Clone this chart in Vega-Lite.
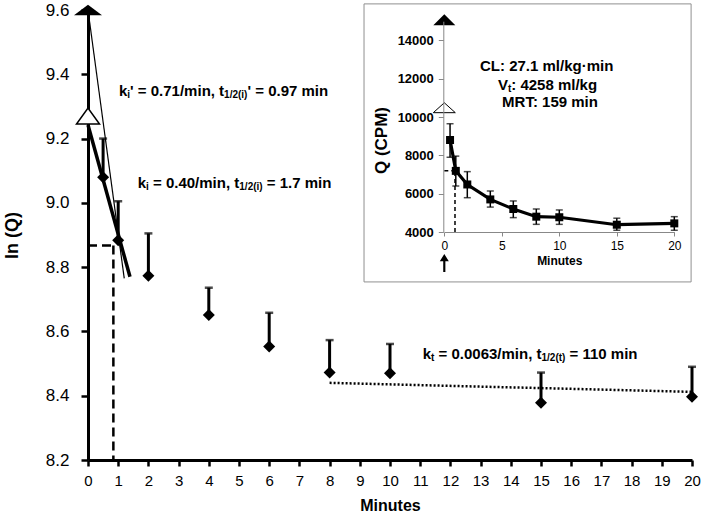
{
  "$schema": "https://vega.github.io/schema/vega-lite/v6.json",
  "width": 604,
  "height": 450,
  "autosize": {"type": "none"},
  "padding": {"left": 88, "top": 10, "right": 13, "bottom": 57},
  "background": "white",
  "config": {
    "view": {"stroke": null},
    "font": "Liberation Sans",
    "axis": {"grid": false, "labelFont": "Liberation Sans", "titleFont": "Liberation Sans", "labelColor": "black", "titleColor": "black"}
  },
  "datasets": {
    "mainPts": [
      {"x": 0.5, "y": 9.08, "top": 9.2},
      {"x": 1, "y": 8.884, "top": 9.005},
      {"x": 2, "y": 8.773, "top": 8.905},
      {"x": 4, "y": 8.651, "top": 8.736},
      {"x": 6, "y": 8.553, "top": 8.658},
      {"x": 8, "y": 8.472, "top": 8.573},
      {"x": 10, "y": 8.47, "top": 8.561},
      {"x": 15, "y": 8.378, "top": 8.472},
      {"x": 20, "y": 8.397, "top": 8.49}
    ],
    "thinLine": [{"x": 0, "y": 9.6}, {"x": 1.2, "y": 8.765}],
    "thickLine": [{"x": 0, "y": 9.242}, {"x": 1.39, "y": 8.77}],
    "dashLines": [
      {"seg": "h", "x": 0, "y": 8.867},
      {"seg": "h", "x": 0.84, "y": 8.867},
      {"seg": "v", "x": 0.84, "y": 8.867},
      {"seg": "v", "x": 0.84, "y": 8.2}
    ],
    "dotLine": [{"x": 8, "y": 8.44}, {"x": 20, "y": 8.412}],
    "frame": [{"x": 9.14, "x2": 19.97, "y": 9.619, "y2": 8.754}],
    "mainTri": [
      {"kind": "filled", "x": 0, "y": 9.6},
      {"kind": "open", "x": 0, "y": 9.27}
    ],
    "mainText": [
      {"part": "main", "x": 1.026, "y": 9.348, "text": "k"},
      {"part": "sub", "x": 1.301, "y": 9.348, "text": "i"},
      {"part": "main", "x": 1.394, "y": 9.348, "text": "' = 0.71/min, t"},
      {"part": "sub", "x": 4.507, "y": 9.348, "text": "1/2(i)"},
      {"part": "main", "x": 5.281, "y": 9.348, "text": "' = 0.97 min"},
      {"part": "main", "x": 1.646, "y": 9.063, "text": "k"},
      {"part": "sub", "x": 1.921, "y": 9.063, "text": "i"},
      {"part": "main", "x": 2.151, "y": 9.063, "text": "= 0.40/min, t"},
      {"part": "sub", "x": 5.01, "y": 9.063, "text": "1/2(i)"},
      {"part": "main", "x": 5.919, "y": 9.063, "text": "= 1.7 min"},
      {"part": "main", "x": 11.083, "y": 8.529, "text": "k"},
      {"part": "sub", "x": 11.358, "y": 8.529, "text": "t"},
      {"part": "main", "x": 11.608, "y": 8.529, "text": "= 0.0063/min, t"},
      {"part": "sub", "x": 15.017, "y": 8.529, "text": "1/2(t)"},
      {"part": "main", "x": 15.946, "y": 8.529, "text": "= 110 min"}
    ],
    "insetPts": [
      {"x": 0.5, "q": 8800, "lo": 7900, "hi": 9650},
      {"x": 1, "q": 7190, "lo": 6400, "hi": 7960},
      {"x": 2, "q": 6480, "lo": 5790, "hi": 7150},
      {"x": 4, "q": 5700, "lo": 5300, "hi": 6140},
      {"x": 6, "q": 5200, "lo": 4750, "hi": 5620},
      {"x": 8, "q": 4800, "lo": 4400, "hi": 5200},
      {"x": 10, "q": 4770, "lo": 4400, "hi": 5150},
      {"x": 15, "q": 4380, "lo": 4090, "hi": 4720},
      {"x": 20, "q": 4450, "lo": 4090, "hi": 4800}
    ],
    "insetDash": [
      {"seg": "v", "x": 0.93, "q": 4000},
      {"seg": "v", "x": 0.93, "q": 7190},
      {"seg": "h", "x": 0, "q": 7190},
      {"seg": "h", "x": 0.93, "q": 7190}
    ],
    "insetTri": [
      {"kind": "filled", "x": 0, "q": 15080},
      {"kind": "open", "x": 0, "q": 10485}
    ],
    "insetArrow": [{"x": 0, "q": 2383}],
    "insetCenterText": [
      {"x": 8.9, "q": 12686, "text": "CL: 27.1 ml/kg·min"},
      {"x": 9.19, "q": 10782, "text": "MRT: 159 min"}
    ],
    "insetVt": [
      {"part": "main", "x": 4.66, "q": 11669, "text": "V"},
      {"part": "sub", "x": 5.53, "q": 11669, "text": "t"},
      {"part": "main", "x": 5.82, "q": 11669, "text": ": 4258 ml/kg"}
    ]
  },
  "layer": [
    {
      "encoding": {
        "x": {
          "field": "x", "type": "quantitative",
          "scale": {"domain": [0, 20], "nice": false, "zero": false},
          "axis": {
            "title": "Minutes",
            "values": [0,1,2,3,4,5,6,7,8,9,10,11,12,13,14,15,16,17,18,19,20],
            "format": "d",
            "domainColor": "black", "domainWidth": 3,
            "tickColor": "black", "tickWidth": 2.5, "tickSize": 6,
            "labelFontSize": 15, "labelPadding": 7, "labelFlush": false, "labelOverlap": false,
            "titleFontSize": 16, "titleFontWeight": "bold", "titlePadding": 9
          }
        },
        "y": {
          "field": "y", "type": "quantitative",
          "scale": {"domain": [8.2, 9.6], "nice": false, "zero": false},
          "axis": {
            "title": "ln (Q)",
            "values": [8.2, 8.4, 8.6, 8.8, 9.0, 9.2, 9.4, 9.6],
            "format": ".1f",
            "domainColor": "black", "domainWidth": 3,
            "tickColor": "black", "tickWidth": 2.5, "tickSize": 7,
            "labelFontSize": 17, "labelPadding": 12, "labelFlush": false, "labelOverlap": false,
            "titleFontSize": 18, "titleFontWeight": "bold", "titlePadding": 24
          }
        }
      },
      "layer": [
        {
          "data": {"name": "frame"},
          "mark": {"type": "rect", "fill": "white", "stroke": "#909090", "strokeWidth": 1, "clip": false},
          "encoding": {"x2": {"field": "x2"}, "y2": {"field": "y2"}}
        },
        {
          "data": {"name": "thinLine"},
          "mark": {"type": "line", "color": "black", "strokeWidth": 1.2, "clip": false},
          "encoding": {}
        },
        {
          "data": {"name": "thickLine"},
          "mark": {"type": "line", "color": "black", "strokeWidth": 3.5},
          "encoding": {}
        },
        {
          "data": {"name": "dashLines"},
          "mark": {"type": "line", "color": "black", "strokeWidth": 2.5, "strokeDash": [9, 5]},
          "encoding": {"detail": {"field": "seg"}}
        },
        {
          "data": {"name": "dotLine"},
          "mark": {"type": "line", "color": "black", "strokeWidth": 2.5, "strokeDash": [2, 2]},
          "encoding": {}
        },
        {
          "data": {"name": "mainPts"},
          "mark": {"type": "rule", "color": "black", "strokeWidth": 3},
          "encoding": {"y2": {"field": "top"}}
        },
        {
          "data": {"name": "mainPts"},
          "mark": {"type": "tick", "orient": "horizontal", "color": "black", "thickness": 2.5, "size": 8},
          "encoding": {"y": {"field": "top", "type": "quantitative"}}
        },
        {
          "data": {"name": "mainPts"},
          "mark": {"type": "point", "shape": "diamond", "filled": true, "color": "black", "size": 144, "opacity": 1},
          "encoding": {}
        },
        {
          "data": {"name": "mainTri"},
          "transform": [{"filter": "datum.kind === 'open'"}],
          "mark": {"type": "point", "shape": "M-1,0.7L1,0.7L0,-0.7Z", "filled": true, "fill": "white", "stroke": "black", "strokeWidth": 1.5, "size": 529, "opacity": 1, "clip": false},
          "encoding": {}
        },
        {
          "data": {"name": "mainTri"},
          "transform": [{"filter": "datum.kind === 'filled'"}],
          "mark": {"type": "point", "shape": "M-1,0.38L1,0.38L0,-0.38Z", "filled": true, "color": "black", "size": 784, "opacity": 1, "clip": false},
          "encoding": {}
        },
        {
          "data": {"name": "mainText"},
          "transform": [{"filter": "datum.part === 'main'"}],
          "mark": {"type": "text", "align": "left", "baseline": "middle", "fontSize": 15, "fontWeight": "bold", "color": "black"},
          "encoding": {"text": {"field": "text"}}
        },
        {
          "data": {"name": "mainText"},
          "transform": [{"filter": "datum.part === 'sub'"}],
          "mark": {"type": "text", "align": "left", "baseline": "middle", "fontSize": 10, "fontWeight": "bold", "color": "black", "dy": 4},
          "encoding": {"text": {"field": "text"}}
        }
      ]
    },
    {
      "encoding": {
        "x": {
          "field": "x", "type": "quantitative",
          "scale": {"domain": [0, 20], "range": [356.3, 586.3], "nice": false, "zero": false},
          "axis": {
            "orient": "bottom", "offset": -228, "zindex": 1,
            "title": "Minutes",
            "values": [0, 5, 10, 15, 20], "format": "d",
            "domainColor": "#888888", "domainWidth": 1,
            "tickColor": "#888888", "tickSize": 4, "tickWidth": 1,
            "labelFontSize": 12, "labelPadding": 4, "labelFlush": false,
            "titleFontSize": 12, "titleFontWeight": "bold", "titlePadding": 4
          }
        },
        "y": {
          "field": "q", "type": "quantitative",
          "scale": {"domain": [4000, 15000], "range": [222, 11.2], "nice": false, "zero": false},
          "axis": {
            "orient": "left", "offset": -355.3, "zindex": 1,
            "title": "Q (CPM)",
            "values": [4000, 6000, 8000, 10000, 12000, 14000], "format": "d",
            "domainColor": "#888888", "domainWidth": 1,
            "tickColor": "#888888", "tickSize": 5, "tickWidth": 1,
            "labelFontSize": 13, "labelFontWeight": "bold", "labelPadding": 5, "labelFlush": false,
            "titleFontSize": 17, "titleFontWeight": "bold", "titlePadding": 7, "titleY": 130
          }
        }
      },
      "layer": [
        {
          "data": {"name": "insetDash"},
          "mark": {"type": "line", "color": "black", "strokeWidth": 1.5, "strokeDash": [4, 3]},
          "encoding": {"detail": {"field": "seg"}}
        },
        {
          "data": {"name": "insetPts"},
          "mark": {"type": "rule", "color": "black", "strokeWidth": 1.5},
          "encoding": {"y": {"field": "lo", "type": "quantitative"}, "y2": {"field": "hi"}}
        },
        {
          "data": {"name": "insetPts"},
          "mark": {"type": "tick", "orient": "horizontal", "color": "black", "thickness": 1.5, "size": 7},
          "encoding": {"y": {"field": "lo", "type": "quantitative"}}
        },
        {
          "data": {"name": "insetPts"},
          "mark": {"type": "tick", "orient": "horizontal", "color": "black", "thickness": 1.5, "size": 7},
          "encoding": {"y": {"field": "hi", "type": "quantitative"}}
        },
        {
          "data": {"name": "insetPts"},
          "mark": {"type": "line", "color": "black", "strokeWidth": 3.2},
          "encoding": {}
        },
        {
          "data": {"name": "insetPts"},
          "mark": {"type": "point", "shape": "square", "filled": true, "color": "black", "size": 64, "opacity": 1},
          "encoding": {}
        },
        {
          "data": {"name": "insetTri"},
          "transform": [{"filter": "datum.kind === 'open'"}],
          "mark": {"type": "point", "shape": "M-1,0.45L1,0.45L0,-0.45Z", "filled": true, "fill": "white", "stroke": "black", "strokeWidth": 1, "size": 484, "opacity": 1, "clip": false},
          "encoding": {}
        },
        {
          "data": {"name": "insetTri"},
          "transform": [{"filter": "datum.kind === 'filled'"}],
          "mark": {"type": "point", "shape": "M-1,0.5L1,0.5L0,-0.5Z", "filled": true, "color": "black", "size": 484, "opacity": 1, "clip": false},
          "encoding": {}
        },
        {
          "data": {"name": "insetArrow"},
          "mark": {"type": "point", "shape": "M-0.12,1L0.12,1L0.12,-0.2L0.5,-0.2L0,-1L-0.5,-0.2L-0.12,-0.2Z", "filled": true, "color": "black", "size": 324, "opacity": 1, "clip": false},
          "encoding": {}
        },
        {
          "data": {"name": "insetCenterText"},
          "mark": {"type": "text", "align": "center", "baseline": "middle", "fontSize": 15, "fontWeight": "bold", "color": "black"},
          "encoding": {"text": {"field": "text"}}
        },
        {
          "data": {"name": "insetVt"},
          "transform": [{"filter": "datum.part === 'main'"}],
          "mark": {"type": "text", "align": "left", "baseline": "middle", "fontSize": 15, "fontWeight": "bold", "color": "black"},
          "encoding": {"text": {"field": "text"}}
        },
        {
          "data": {"name": "insetVt"},
          "transform": [{"filter": "datum.part === 'sub'"}],
          "mark": {"type": "text", "align": "left", "baseline": "middle", "fontSize": 10, "fontWeight": "bold", "color": "black", "dy": 4},
          "encoding": {"text": {"field": "text"}}
        }
      ]
    }
  ],
  "resolve": {"scale": {"x": "independent", "y": "independent"}}
}
